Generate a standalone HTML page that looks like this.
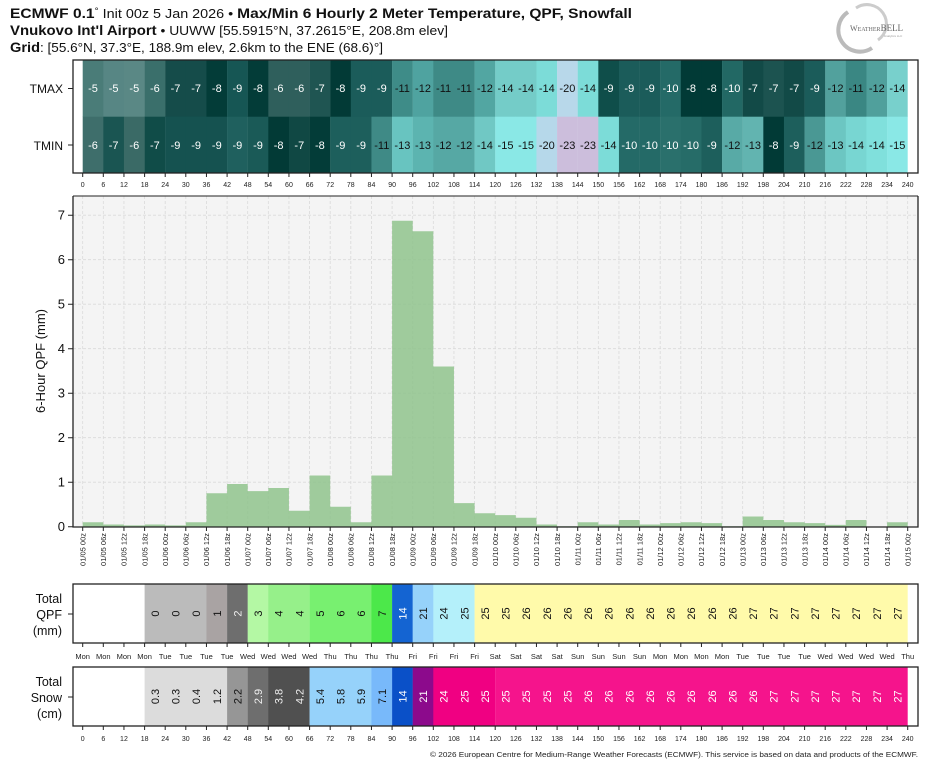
<!DOCTYPE html>
<html><head><meta charset="utf-8"><style>
html,body{margin:0;padding:0;background:#fff;}
svg{display:block;font-family:"Liberation Sans",sans-serif;}
</style></head><body>
<svg width="935" height="768" viewBox="0 0 935 768" xmlns="http://www.w3.org/2000/svg">
<!-- header -->
<text x="10" y="18" font-size="13.5" fill="#111" textLength="622" lengthAdjust="spacingAndGlyphs"><tspan font-weight="bold">ECMWF 0.1</tspan><tspan font-size="9" dy="-4">°</tspan><tspan font-size="12.5" dy="4"> Init 00z 5 Jan 2026 • </tspan><tspan font-weight="bold">Max/Min 6 Hourly 2 Meter Temperature,  QPF,  Snowfall</tspan></text>
<text x="10" y="35" font-size="13.5" fill="#111" textLength="438" lengthAdjust="spacingAndGlyphs"><tspan font-weight="bold">Vnukovo Int'l Airport</tspan><tspan font-size="12.5"> • UUWW [55.5915°N, 37.2615°E, 208.8m elev]</tspan></text>
<text x="10" y="52" font-size="13.5" fill="#111" textLength="373" lengthAdjust="spacingAndGlyphs"><tspan font-weight="bold">Grid</tspan><tspan font-size="12.5">: [55.6°N, 37.3°E, 188.9m elev, 2.6km to the ENE (68.6)°]</tspan></text>
<g>
<path d="M848 12 A20 20 0 1 0 872 48" fill="none" stroke="#bbb" stroke-width="4"/>
<path d="M856 8 A18 18 0 0 1 878 40" fill="none" stroke="#ccc" stroke-width="3"/>
<text x="850" y="31" font-size="8" font-family="Liberation Serif,serif" fill="#666">W<tspan font-size="6">EATHER</tspan><tspan font-size="9">BELL</tspan></text>
<text x="884" y="37" font-size="3" fill="#999">Analytics LLC</text>
</g>

<!-- HEATMAP -->
<g transform="translate(82.7,0)">
<g>
<rect x="0" y="60" width="20.8" height="57" fill="#4a7c78"/><rect x="20.625" y="60" width="20.8" height="57" fill="#578684"/><rect x="41.25" y="60" width="20.8" height="57" fill="#5a8885"/><rect x="61.875" y="60" width="20.8" height="57" fill="#3a6f6b"/><rect x="82.5" y="60" width="20.8" height="57" fill="#154c4a"/><rect x="103.125" y="60" width="20.8" height="57" fill="#154c4a"/><rect x="123.75" y="60" width="20.8" height="57" fill="#033c38"/><rect x="144.375" y="60" width="20.8" height="57" fill="#165654"/><rect x="165" y="60" width="20.8" height="57" fill="#033c38"/><rect x="185.625" y="60" width="20.8" height="57" fill="#2f5f5c"/><rect x="206.25" y="60" width="20.8" height="57" fill="#2f5f5c"/><rect x="226.875" y="60" width="20.8" height="57" fill="#1f5552"/><rect x="247.5" y="60" width="20.8" height="57" fill="#023a36"/><rect x="268.125" y="60" width="20.8" height="57" fill="#1b5c5a"/><rect x="288.75" y="60" width="20.8" height="57" fill="#1b5c5a"/><rect x="309.375" y="60" width="20.8" height="57" fill="#3e8c88"/><rect x="330" y="60" width="20.8" height="57" fill="#4fa3a0"/><rect x="350.625" y="60" width="20.8" height="57" fill="#3e8a86"/><rect x="371.25" y="60" width="20.8" height="57" fill="#3e8a86"/><rect x="391.875" y="60" width="20.8" height="57" fill="#52a6a2"/><rect x="412.5" y="60" width="20.8" height="57" fill="#74ccc8"/><rect x="433.125" y="60" width="20.8" height="57" fill="#74ccc8"/><rect x="453.75" y="60" width="20.8" height="57" fill="#7cdcd8"/><rect x="474.375" y="60" width="20.8" height="57" fill="#b8d8ea"/><rect x="495" y="60" width="20.8" height="57" fill="#7cdcd8"/><rect x="515.625" y="60" width="20.8" height="57" fill="#0f4e4a"/><rect x="536.25" y="60" width="20.8" height="57" fill="#1b5c5a"/><rect x="556.875" y="60" width="20.8" height="57" fill="#1b5c5a"/><rect x="577.5" y="60" width="20.8" height="57" fill="#246a67"/><rect x="598.125" y="60" width="20.8" height="57" fill="#013a36"/><rect x="618.75" y="60" width="20.8" height="57" fill="#013a36"/><rect x="639.375" y="60" width="20.8" height="57" fill="#226864"/><rect x="660" y="60" width="20.8" height="57" fill="#124a47"/><rect x="680.625" y="60" width="20.8" height="57" fill="#1c5350"/><rect x="701.25" y="60" width="20.8" height="57" fill="#124a47"/><rect x="721.875" y="60" width="20.8" height="57" fill="#1b5c5a"/><rect x="742.5" y="60" width="20.8" height="57" fill="#52a19d"/><rect x="763.125" y="60" width="20.8" height="57" fill="#3a8783"/><rect x="783.75" y="60" width="20.8" height="57" fill="#50a09c"/><rect x="804.375" y="60" width="20.625" height="57" fill="#78d0cc"/>
</g>
<g>
<rect x="0" y="116.7" width="20.8" height="56.5" fill="#3e6e6b"/><rect x="20.625" y="116.7" width="20.8" height="56.5" fill="#1a5552"/><rect x="41.25" y="116.7" width="20.8" height="56.5" fill="#3a6a66"/><rect x="61.875" y="116.7" width="20.8" height="56.5" fill="#104c48"/><rect x="82.5" y="116.7" width="20.8" height="56.5" fill="#155250"/><rect x="103.125" y="116.7" width="20.8" height="56.5" fill="#155250"/><rect x="123.75" y="116.7" width="20.8" height="56.5" fill="#155250"/><rect x="144.375" y="116.7" width="20.8" height="56.5" fill="#1f605e"/><rect x="165" y="116.7" width="20.8" height="56.5" fill="#1a5a57"/><rect x="185.625" y="116.7" width="20.8" height="56.5" fill="#023a36"/><rect x="206.25" y="116.7" width="20.8" height="56.5" fill="#104844"/><rect x="226.875" y="116.7" width="20.8" height="56.5" fill="#033c38"/><rect x="247.5" y="116.7" width="20.8" height="56.5" fill="#1d5f5c"/><rect x="268.125" y="116.7" width="20.8" height="56.5" fill="#1d5f5c"/><rect x="288.75" y="116.7" width="20.8" height="56.5" fill="#3f8a86"/><rect x="309.375" y="116.7" width="20.8" height="56.5" fill="#68c4c0"/><rect x="330" y="116.7" width="20.8" height="56.5" fill="#5cb4b0"/><rect x="350.625" y="116.7" width="20.8" height="56.5" fill="#56a8a4"/><rect x="371.25" y="116.7" width="20.8" height="56.5" fill="#56a8a4"/><rect x="391.875" y="116.7" width="20.8" height="56.5" fill="#70c8c4"/><rect x="412.5" y="116.7" width="20.8" height="56.5" fill="#8ae8e6"/><rect x="433.125" y="116.7" width="20.8" height="56.5" fill="#8ae8e6"/><rect x="453.75" y="116.7" width="20.8" height="56.5" fill="#b6d8ea"/><rect x="474.375" y="116.7" width="20.8" height="56.5" fill="#ccbedc"/><rect x="495" y="116.7" width="20.8" height="56.5" fill="#ccbedc"/><rect x="515.625" y="116.7" width="20.8" height="56.5" fill="#7cdcd8"/><rect x="536.25" y="116.7" width="20.8" height="56.5" fill="#246a67"/><rect x="556.875" y="116.7" width="20.8" height="56.5" fill="#246a67"/><rect x="577.5" y="116.7" width="20.8" height="56.5" fill="#2a706c"/><rect x="598.125" y="116.7" width="20.8" height="56.5" fill="#266c68"/><rect x="618.75" y="116.7" width="20.8" height="56.5" fill="#1d5f5c"/><rect x="639.375" y="116.7" width="20.8" height="56.5" fill="#58aaa6"/><rect x="660" y="116.7" width="20.8" height="56.5" fill="#62b4b0"/><rect x="680.625" y="116.7" width="20.8" height="56.5" fill="#013a36"/><rect x="701.25" y="116.7" width="20.8" height="56.5" fill="#1d5f5c"/><rect x="721.875" y="116.7" width="20.8" height="56.5" fill="#4a9894"/><rect x="742.5" y="116.7" width="20.8" height="56.5" fill="#6cc6c2"/><rect x="763.125" y="116.7" width="20.8" height="56.5" fill="#78d6d2"/><rect x="783.75" y="116.7" width="20.8" height="56.5" fill="#80e0dc"/><rect x="804.375" y="116.7" width="20.625" height="56.5" fill="#8ae8e6"/>
</g>
<g font-size="11" text-anchor="middle">
<g fill="#fff">
<text x="10.3" y="92">-5</text><text x="30.9" y="92">-5</text><text x="51.6" y="92">-5</text><text x="72.2" y="92">-6</text><text x="92.8" y="92">-7</text><text x="113.4" y="92">-7</text><text x="134.1" y="92">-8</text><text x="154.7" y="92">-9</text><text x="175.3" y="92">-8</text><text x="195.9" y="92">-6</text><text x="216.6" y="92">-6</text><text x="237.2" y="92">-7</text><text x="257.8" y="92">-8</text><text x="278.4" y="92">-9</text><text x="299.1" y="92">-9</text>
<text x="525.9" y="92">-9</text><text x="546.6" y="92">-9</text><text x="567.2" y="92">-9</text><text x="587.8" y="92">-10</text><text x="608.4" y="92">-8</text><text x="629.1" y="92">-8</text><text x="649.7" y="92">-10</text><text x="670.3" y="92">-7</text><text x="690.9" y="92">-7</text><text x="711.6" y="92">-7</text><text x="732.2" y="92">-9</text>
<text x="10.3" y="149">-6</text><text x="30.9" y="149">-7</text><text x="51.6" y="149">-6</text><text x="72.2" y="149">-7</text><text x="92.8" y="149">-9</text><text x="113.4" y="149">-9</text><text x="134.1" y="149">-9</text><text x="154.7" y="149">-9</text><text x="175.3" y="149">-9</text><text x="195.9" y="149">-8</text><text x="216.6" y="149">-7</text><text x="237.2" y="149">-8</text><text x="257.8" y="149">-9</text><text x="278.4" y="149">-9</text>
<text x="546.6" y="149">-10</text><text x="567.2" y="149">-10</text><text x="587.8" y="149">-10</text><text x="608.4" y="149">-10</text><text x="629.1" y="149">-9</text><text x="690.9" y="149">-8</text><text x="711.6" y="149">-9</text>
</g>
<g fill="#111">
<text x="319.7" y="92">-11</text><text x="340.3" y="92">-12</text><text x="360.9" y="92">-11</text><text x="381.6" y="92">-11</text><text x="402.2" y="92">-12</text><text x="422.8" y="92">-14</text><text x="443.4" y="92">-14</text><text x="464.1" y="92">-14</text><text x="484.7" y="92">-20</text><text x="505.3" y="92">-14</text>
<text x="752.8" y="92">-12</text><text x="773.4" y="92">-11</text><text x="794.1" y="92">-12</text><text x="814.7" y="92">-14</text>
<text x="299.1" y="149">-11</text><text x="319.7" y="149">-13</text><text x="340.3" y="149">-13</text><text x="360.9" y="149">-12</text><text x="381.6" y="149">-12</text><text x="402.2" y="149">-14</text><text x="422.8" y="149">-15</text><text x="443.4" y="149">-15</text><text x="464.1" y="149">-20</text><text x="484.7" y="149">-23</text><text x="505.3" y="149">-23</text><text x="525.9" y="149">-14</text>
<text x="649.7" y="149">-12</text><text x="670.3" y="149">-13</text><text x="732.2" y="149">-12</text><text x="752.8" y="149">-13</text><text x="773.4" y="149">-14</text><text x="794.1" y="149">-14</text><text x="814.7" y="149">-15</text>
</g>
</g>
</g>
<rect x="73" y="60" width="845" height="113" fill="none" stroke="#222" stroke-width="1.3"/>
<g font-size="12" text-anchor="end" fill="#111"><text x="63" y="93">TMAX</text><text x="63" y="150">TMIN</text></g>
<path d="M68 88.5H73M68 145H73" stroke="#222"/>

<g stroke="#222" stroke-width="1">
<path d="M82.7 173v4M103.3 173v4M123.95 173v4M144.6 173v4M165.2 173v4M185.8 173v4M206.45 173v4M227.1 173v4M247.7 173v4M268.3 173v4M288.95 173v4M309.6 173v4M330.2 173v4M350.8 173v4M371.45 173v4M392.1 173v4M412.7 173v4M433.3 173v4M453.95 173v4M474.6 173v4M495.2 173v4M515.8 173v4M536.45 173v4M557.1 173v4M577.7 173v4M598.3 173v4M618.95 173v4M639.6 173v4M660.2 173v4M680.8 173v4M701.45 173v4M722.1 173v4M742.7 173v4M763.3 173v4M783.95 173v4M804.6 173v4M825.2 173v4M845.8 173v4M866.45 173v4M887.1 173v4M907.7 173v4"/>
</g>
<g font-size="7" text-anchor="middle" fill="#222">
<text x="82.7" y="187">0</text><text x="103.3" y="187">6</text><text x="123.95" y="187">12</text><text x="144.6" y="187">18</text><text x="165.2" y="187">24</text><text x="185.8" y="187">30</text><text x="206.45" y="187">36</text><text x="227.1" y="187">42</text><text x="247.7" y="187">48</text><text x="268.3" y="187">54</text><text x="288.95" y="187">60</text><text x="309.6" y="187">66</text><text x="330.2" y="187">72</text><text x="350.8" y="187">78</text><text x="371.45" y="187">84</text><text x="392.1" y="187">90</text><text x="412.7" y="187">96</text><text x="433.3" y="187">102</text><text x="453.95" y="187">108</text><text x="474.6" y="187">114</text><text x="495.2" y="187">120</text><text x="515.8" y="187">126</text><text x="536.45" y="187">132</text><text x="557.1" y="187">138</text><text x="577.7" y="187">144</text><text x="598.3" y="187">150</text><text x="618.95" y="187">156</text><text x="639.6" y="187">162</text><text x="660.2" y="187">168</text><text x="680.8" y="187">174</text><text x="701.45" y="187">180</text><text x="722.1" y="187">186</text><text x="742.7" y="187">192</text><text x="763.3" y="187">198</text><text x="783.95" y="187">204</text><text x="804.6" y="187">210</text><text x="825.2" y="187">216</text><text x="845.8" y="187">222</text><text x="866.45" y="187">228</text><text x="887.1" y="187">234</text><text x="907.7" y="187">240</text>
</g>

<!-- MAIN QPF CHART -->
<rect x="73" y="196" width="845" height="331" fill="#f4f4f4"/>
<g stroke="#dadada" stroke-width="0.8" stroke-dasharray="3,2">
<path d="M73 482.2H918M73 437.7H918M73 393.2H918M73 348.7H918M73 304.2H918M73 259.7H918M73 215.2H918"/>
<path d="M82.7 196v331M103.3 196v331M123.95 196v331M144.6 196v331M165.2 196v331M185.8 196v331M206.45 196v331M227.1 196v331M247.7 196v331M268.3 196v331M288.95 196v331M309.6 196v331M330.2 196v331M350.8 196v331M371.45 196v331M392.1 196v331M412.7 196v331M433.3 196v331M453.95 196v331M474.6 196v331M495.2 196v331M515.8 196v331M536.45 196v331M557.1 196v331M577.7 196v331M598.3 196v331M618.95 196v331M639.6 196v331M660.2 196v331M680.8 196v331M701.45 196v331M722.1 196v331M742.7 196v331M763.3 196v331M783.95 196v331M804.6 196v331M825.2 196v331M845.8 196v331M866.45 196v331M887.1 196v331M907.7 196v331"/>
</g>
<path fill="#8fc38c" fill-opacity="0.85" d="M82.7 526.7V522.2H103.3V524.5H123.95V525.4H144.6V524.5H165.2V525.4H185.8V522.2H206.45V493.3H227.1V484H247.7V491.1H268.3V488H288.95V510.7H309.6V475.5H330.2V506.7H350.8V522.2H371.45V475.5H392.1V220.7H412.7V231.2H433.3V366.5H453.95V503.1H474.6V513.3H495.2V515.1H515.8V517.8H536.45V524.5H557.1V526.2H577.7V522.2H598.3V524.5H618.95V520H639.6V524.5H660.2V523.1H680.8V522.2H701.45V523.1H722.1V526.2H742.7V516.5H763.3V520H783.95V522.2H804.6V523.1H825.2V524.9H845.8V520H866.45V526.7H887.1V522.2H907.7V526.7Z"/>
<path d="M73 196V527H918V196" fill="none" stroke="#222" stroke-width="1.3"/>
<path d="M73 196H918" stroke="#222" stroke-width="1"/>
<g stroke="#222"><path d="M68 526.7H73M68 482.2H73M68 437.7H73M68 393.2H73M68 348.7H73M68 304.2H73M68 259.7H73M68 215.2H73"/></g>
<g font-size="13" text-anchor="end" fill="#111">
<text x="65" y="531">0</text><text x="65" y="486.5">1</text><text x="65" y="442">2</text><text x="65" y="397.5">3</text><text x="65" y="353">4</text><text x="65" y="308.5">5</text><text x="65" y="264">6</text><text x="65" y="219.5">7</text>
</g>
<text transform="translate(45,361) rotate(-90)" font-size="13" text-anchor="middle" fill="#111">6-Hour QPF (mm)</text>
<g stroke="#222"><path d="M82.7 527v4M103.3 527v4M123.95 527v4M144.6 527v4M165.2 527v4M185.8 527v4M206.45 527v4M227.1 527v4M247.7 527v4M268.3 527v4M288.95 527v4M309.6 527v4M330.2 527v4M350.8 527v4M371.45 527v4M392.1 527v4M412.7 527v4M433.3 527v4M453.95 527v4M474.6 527v4M495.2 527v4M515.8 527v4M536.45 527v4M557.1 527v4M577.7 527v4M598.3 527v4M618.95 527v4M639.6 527v4M660.2 527v4M680.8 527v4M701.45 527v4M722.1 527v4M742.7 527v4M763.3 527v4M783.95 527v4M804.6 527v4M825.2 527v4M845.8 527v4M866.45 527v4M887.1 527v4M907.7 527v4"/></g>
<g font-size="7.5" text-anchor="end" fill="#222">
<text transform="translate(85.4,533) rotate(-90)">01/05 00z</text><text transform="translate(106,533) rotate(-90)">01/05 06z</text><text transform="translate(126.6,533) rotate(-90)">01/05 12z</text><text transform="translate(147.3,533) rotate(-90)">01/05 18z</text><text transform="translate(167.9,533) rotate(-90)">01/06 00z</text><text transform="translate(188.5,533) rotate(-90)">01/06 06z</text><text transform="translate(209.1,533) rotate(-90)">01/06 12z</text><text transform="translate(229.8,533) rotate(-90)">01/06 18z</text><text transform="translate(250.4,533) rotate(-90)">01/07 00z</text><text transform="translate(271,533) rotate(-90)">01/07 06z</text><text transform="translate(291.6,533) rotate(-90)">01/07 12z</text><text transform="translate(312.3,533) rotate(-90)">01/07 18z</text><text transform="translate(332.9,533) rotate(-90)">01/08 00z</text><text transform="translate(353.5,533) rotate(-90)">01/08 06z</text><text transform="translate(374.1,533) rotate(-90)">01/08 12z</text><text transform="translate(394.8,533) rotate(-90)">01/08 18z</text><text transform="translate(415.4,533) rotate(-90)">01/09 00z</text><text transform="translate(436,533) rotate(-90)">01/09 06z</text><text transform="translate(456.6,533) rotate(-90)">01/09 12z</text><text transform="translate(477.3,533) rotate(-90)">01/09 18z</text><text transform="translate(497.9,533) rotate(-90)">01/10 00z</text><text transform="translate(518.5,533) rotate(-90)">01/10 06z</text><text transform="translate(539.1,533) rotate(-90)">01/10 12z</text><text transform="translate(559.8,533) rotate(-90)">01/10 18z</text><text transform="translate(580.4,533) rotate(-90)">01/11 00z</text><text transform="translate(601,533) rotate(-90)">01/11 06z</text><text transform="translate(621.6,533) rotate(-90)">01/11 12z</text><text transform="translate(642.3,533) rotate(-90)">01/11 18z</text><text transform="translate(662.9,533) rotate(-90)">01/12 00z</text><text transform="translate(683.5,533) rotate(-90)">01/12 06z</text><text transform="translate(704.1,533) rotate(-90)">01/12 12z</text><text transform="translate(724.8,533) rotate(-90)">01/12 18z</text><text transform="translate(745.4,533) rotate(-90)">01/13 00z</text><text transform="translate(766,533) rotate(-90)">01/13 06z</text><text transform="translate(786.6,533) rotate(-90)">01/13 12z</text><text transform="translate(807.3,533) rotate(-90)">01/13 18z</text><text transform="translate(827.9,533) rotate(-90)">01/14 00z</text><text transform="translate(848.5,533) rotate(-90)">01/14 06z</text><text transform="translate(869.1,533) rotate(-90)">01/14 12z</text><text transform="translate(889.8,533) rotate(-90)">01/14 18z</text><text transform="translate(910.4,533) rotate(-90)">01/15 00z</text>
</g>

<!-- TOTAL QPF -->
<g>
<rect x="144.6" y="584" width="62" height="59" fill="#bbbbbb"/>
<rect x="206.45" y="584" width="20.8" height="59" fill="#a9a3a3"/>
<rect x="227.1" y="584" width="20.8" height="59" fill="#6e6e6e"/>
<rect x="247.7" y="584" width="20.8" height="59" fill="#b4f8a4"/>
<rect x="268.3" y="584" width="41.4" height="59" fill="#96f08a"/>
<rect x="309.6" y="584" width="62" height="59" fill="#78f070"/>
<rect x="371.45" y="584" width="20.8" height="59" fill="#4ce84a"/>
<rect x="392.1" y="584" width="20.8" height="59" fill="#1464d2"/>
<rect x="412.7" y="584" width="20.8" height="59" fill="#96d2fa"/>
<rect x="433.3" y="584" width="41.4" height="59" fill="#b4f0fa"/>
<rect x="474.6" y="584" width="433.1" height="59" fill="#fffaaa"/>
</g>
<rect x="73" y="584" width="845" height="59" fill="none" stroke="#222" stroke-width="1.3"/>
<g font-size="11" text-anchor="middle" fill="#111">
<text transform="translate(154.9,613.5) rotate(-90)" dy="4">0</text><text transform="translate(175.5,613.5) rotate(-90)" dy="4">0</text><text transform="translate(196.1,613.5) rotate(-90)" dy="4">0</text><text transform="translate(216.8,613.5) rotate(-90)" dy="4">1</text><text transform="translate(237.4,613.5) rotate(-90)" dy="4" fill="#eee">2</text><text transform="translate(258,613.5) rotate(-90)" dy="4">3</text><text transform="translate(278.6,613.5) rotate(-90)" dy="4">4</text><text transform="translate(299.3,613.5) rotate(-90)" dy="4">4</text><text transform="translate(319.9,613.5) rotate(-90)" dy="4">5</text><text transform="translate(340.5,613.5) rotate(-90)" dy="4">6</text><text transform="translate(361.1,613.5) rotate(-90)" dy="4">6</text><text transform="translate(381.8,613.5) rotate(-90)" dy="4">7</text><text transform="translate(402.4,613.5) rotate(-90)" dy="4" fill="#fff">14</text><text transform="translate(423,613.5) rotate(-90)" dy="4">21</text><text transform="translate(443.6,613.5) rotate(-90)" dy="4">24</text><text transform="translate(464.3,613.5) rotate(-90)" dy="4">25</text><text transform="translate(484.9,613.5) rotate(-90)" dy="4">25</text><text transform="translate(505.5,613.5) rotate(-90)" dy="4">25</text><text transform="translate(526.1,613.5) rotate(-90)" dy="4">26</text><text transform="translate(546.8,613.5) rotate(-90)" dy="4">26</text><text transform="translate(567.4,613.5) rotate(-90)" dy="4">26</text><text transform="translate(588,613.5) rotate(-90)" dy="4">26</text><text transform="translate(608.6,613.5) rotate(-90)" dy="4">26</text><text transform="translate(629.3,613.5) rotate(-90)" dy="4">26</text><text transform="translate(649.9,613.5) rotate(-90)" dy="4">26</text><text transform="translate(670.5,613.5) rotate(-90)" dy="4">26</text><text transform="translate(691.1,613.5) rotate(-90)" dy="4">26</text><text transform="translate(711.8,613.5) rotate(-90)" dy="4">26</text><text transform="translate(732.4,613.5) rotate(-90)" dy="4">26</text><text transform="translate(753,613.5) rotate(-90)" dy="4">27</text><text transform="translate(773.6,613.5) rotate(-90)" dy="4">27</text><text transform="translate(794.3,613.5) rotate(-90)" dy="4">27</text><text transform="translate(814.9,613.5) rotate(-90)" dy="4">27</text><text transform="translate(835.5,613.5) rotate(-90)" dy="4">27</text><text transform="translate(856.1,613.5) rotate(-90)" dy="4">27</text><text transform="translate(876.8,613.5) rotate(-90)" dy="4">27</text><text transform="translate(897.4,613.5) rotate(-90)" dy="4">27</text>
</g>
<g font-size="12.5" text-anchor="end" fill="#111"><text x="62" y="603">Total</text><text x="62" y="619">QPF</text><text x="62" y="635">(mm)</text></g>
<path d="M68 614H73" stroke="#222"/>
<g stroke="#222"><path d="M82.7 643v4M103.3 643v4M123.95 643v4M144.6 643v4M165.2 643v4M185.8 643v4M206.45 643v4M227.1 643v4M247.7 643v4M268.3 643v4M288.95 643v4M309.6 643v4M330.2 643v4M350.8 643v4M371.45 643v4M392.1 643v4M412.7 643v4M433.3 643v4M453.95 643v4M474.6 643v4M495.2 643v4M515.8 643v4M536.45 643v4M557.1 643v4M577.7 643v4M598.3 643v4M618.95 643v4M639.6 643v4M660.2 643v4M680.8 643v4M701.45 643v4M722.1 643v4M742.7 643v4M763.3 643v4M783.95 643v4M804.6 643v4M825.2 643v4M845.8 643v4M866.45 643v4M887.1 643v4M907.7 643v4"/></g>
<g font-size="7.5" text-anchor="middle" fill="#222">
<text x="82.7" y="659">Mon</text><text x="103.3" y="659">Mon</text><text x="123.95" y="659">Mon</text><text x="144.6" y="659">Mon</text><text x="165.2" y="659">Tue</text><text x="185.8" y="659">Tue</text><text x="206.45" y="659">Tue</text><text x="227.1" y="659">Tue</text><text x="247.7" y="659">Wed</text><text x="268.3" y="659">Wed</text><text x="288.95" y="659">Wed</text><text x="309.6" y="659">Wed</text><text x="330.2" y="659">Thu</text><text x="350.8" y="659">Thu</text><text x="371.45" y="659">Thu</text><text x="392.1" y="659">Thu</text><text x="412.7" y="659">Fri</text><text x="433.3" y="659">Fri</text><text x="453.95" y="659">Fri</text><text x="474.6" y="659">Fri</text><text x="495.2" y="659">Sat</text><text x="515.8" y="659">Sat</text><text x="536.45" y="659">Sat</text><text x="557.1" y="659">Sat</text><text x="577.7" y="659">Sun</text><text x="598.3" y="659">Sun</text><text x="618.95" y="659">Sun</text><text x="639.6" y="659">Sun</text><text x="660.2" y="659">Mon</text><text x="680.8" y="659">Mon</text><text x="701.45" y="659">Mon</text><text x="722.1" y="659">Mon</text><text x="742.7" y="659">Tue</text><text x="763.3" y="659">Tue</text><text x="783.95" y="659">Tue</text><text x="804.6" y="659">Tue</text><text x="825.2" y="659">Wed</text><text x="845.8" y="659">Wed</text><text x="866.45" y="659">Wed</text><text x="887.1" y="659">Wed</text><text x="907.7" y="659">Thu</text>
</g>

<!-- TOTAL SNOW -->
<g>
<rect x="144.6" y="667" width="82.7" height="59" fill="#dcdcdc"/>
<rect x="227.1" y="667" width="20.8" height="59" fill="#969696"/>
<rect x="247.7" y="667" width="20.8" height="59" fill="#6e6e6e"/>
<rect x="268.3" y="667" width="41.4" height="59" fill="#505050"/>
<rect x="309.6" y="667" width="62" height="59" fill="#96d2fa"/>
<rect x="371.45" y="667" width="20.8" height="59" fill="#78b9fa"/>
<rect x="392.1" y="667" width="20.8" height="59" fill="#0a50c8"/>
<rect x="412.7" y="667" width="20.8" height="59" fill="#8c0a8c"/>
<rect x="433.3" y="667" width="62" height="59" fill="#f00082"/>
<rect x="495.2" y="667" width="412.5" height="59" fill="#f5148c"/>
</g>
<rect x="73" y="667" width="845" height="59" fill="none" stroke="#222" stroke-width="1.3"/>
<g font-size="11" text-anchor="middle" fill="#111">
<text transform="translate(154.9,696.5) rotate(-90)" dy="4">0.3</text><text transform="translate(175.5,696.5) rotate(-90)" dy="4">0.3</text><text transform="translate(196.1,696.5) rotate(-90)" dy="4">0.4</text><text transform="translate(216.8,696.5) rotate(-90)" dy="4">1.2</text><text transform="translate(237.4,696.5) rotate(-90)" dy="4">2.2</text>
<g fill="#eee"><text transform="translate(258,696.5) rotate(-90)" dy="4">2.9</text><text transform="translate(278.6,696.5) rotate(-90)" dy="4">3.8</text><text transform="translate(299.3,696.5) rotate(-90)" dy="4">4.2</text></g>
<text transform="translate(319.9,696.5) rotate(-90)" dy="4">5.4</text><text transform="translate(340.5,696.5) rotate(-90)" dy="4">5.8</text><text transform="translate(361.1,696.5) rotate(-90)" dy="4">5.9</text><text transform="translate(381.8,696.5) rotate(-90)" dy="4">7.1</text>
<g fill="#fff"><text transform="translate(402.4,696.5) rotate(-90)" dy="4">14</text><text transform="translate(423,696.5) rotate(-90)" dy="4">21</text><text transform="translate(443.6,696.5) rotate(-90)" dy="4">24</text><text transform="translate(464.3,696.5) rotate(-90)" dy="4">25</text><text transform="translate(484.9,696.5) rotate(-90)" dy="4">25</text><text transform="translate(505.5,696.5) rotate(-90)" dy="4">25</text><text transform="translate(526.1,696.5) rotate(-90)" dy="4">25</text><text transform="translate(546.8,696.5) rotate(-90)" dy="4">25</text><text transform="translate(567.4,696.5) rotate(-90)" dy="4">25</text><text transform="translate(588,696.5) rotate(-90)" dy="4">26</text><text transform="translate(608.6,696.5) rotate(-90)" dy="4">26</text><text transform="translate(629.3,696.5) rotate(-90)" dy="4">26</text><text transform="translate(649.9,696.5) rotate(-90)" dy="4">26</text><text transform="translate(670.5,696.5) rotate(-90)" dy="4">26</text><text transform="translate(691.1,696.5) rotate(-90)" dy="4">26</text><text transform="translate(711.8,696.5) rotate(-90)" dy="4">26</text><text transform="translate(732.4,696.5) rotate(-90)" dy="4">26</text><text transform="translate(753,696.5) rotate(-90)" dy="4">26</text><text transform="translate(773.6,696.5) rotate(-90)" dy="4">27</text><text transform="translate(794.3,696.5) rotate(-90)" dy="4">27</text><text transform="translate(814.9,696.5) rotate(-90)" dy="4">27</text><text transform="translate(835.5,696.5) rotate(-90)" dy="4">27</text><text transform="translate(856.1,696.5) rotate(-90)" dy="4">27</text><text transform="translate(876.8,696.5) rotate(-90)" dy="4">27</text><text transform="translate(897.4,696.5) rotate(-90)" dy="4">27</text></g>
</g>
<g font-size="12.5" text-anchor="end" fill="#111"><text x="62" y="686">Total</text><text x="62" y="702">Snow</text><text x="62" y="718">(cm)</text></g>
<path d="M68 697H73" stroke="#222"/>
<g stroke="#222"><path d="M82.7 726v4M103.3 726v4M123.95 726v4M144.6 726v4M165.2 726v4M185.8 726v4M206.45 726v4M227.1 726v4M247.7 726v4M268.3 726v4M288.95 726v4M309.6 726v4M330.2 726v4M350.8 726v4M371.45 726v4M392.1 726v4M412.7 726v4M433.3 726v4M453.95 726v4M474.6 726v4M495.2 726v4M515.8 726v4M536.45 726v4M557.1 726v4M577.7 726v4M598.3 726v4M618.95 726v4M639.6 726v4M660.2 726v4M680.8 726v4M701.45 726v4M722.1 726v4M742.7 726v4M763.3 726v4M783.95 726v4M804.6 726v4M825.2 726v4M845.8 726v4M866.45 726v4M887.1 726v4M907.7 726v4"/></g>
<g font-size="7" text-anchor="middle" fill="#222">
<text x="82.7" y="741">0</text><text x="103.3" y="741">6</text><text x="123.95" y="741">12</text><text x="144.6" y="741">18</text><text x="165.2" y="741">24</text><text x="185.8" y="741">30</text><text x="206.45" y="741">36</text><text x="227.1" y="741">42</text><text x="247.7" y="741">48</text><text x="268.3" y="741">54</text><text x="288.95" y="741">60</text><text x="309.6" y="741">66</text><text x="330.2" y="741">72</text><text x="350.8" y="741">78</text><text x="371.45" y="741">84</text><text x="392.1" y="741">90</text><text x="412.7" y="741">96</text><text x="433.3" y="741">102</text><text x="453.95" y="741">108</text><text x="474.6" y="741">114</text><text x="495.2" y="741">120</text><text x="515.8" y="741">126</text><text x="536.45" y="741">132</text><text x="557.1" y="741">138</text><text x="577.7" y="741">144</text><text x="598.3" y="741">150</text><text x="618.95" y="741">156</text><text x="639.6" y="741">162</text><text x="660.2" y="741">168</text><text x="680.8" y="741">174</text><text x="701.45" y="741">180</text><text x="722.1" y="741">186</text><text x="742.7" y="741">192</text><text x="763.3" y="741">198</text><text x="783.95" y="741">204</text><text x="804.6" y="741">210</text><text x="825.2" y="741">216</text><text x="845.8" y="741">222</text><text x="866.45" y="741">228</text><text x="887.1" y="741">234</text><text x="907.7" y="741">240</text>
</g>
<text x="430" y="757" font-size="7.5" fill="#222" textLength="488" lengthAdjust="spacingAndGlyphs">© 2026 European Centre for Medium-Range Weather Forecasts (ECMWF). This service is based on data and products of the ECMWF.</text>
</svg>
</body></html>
